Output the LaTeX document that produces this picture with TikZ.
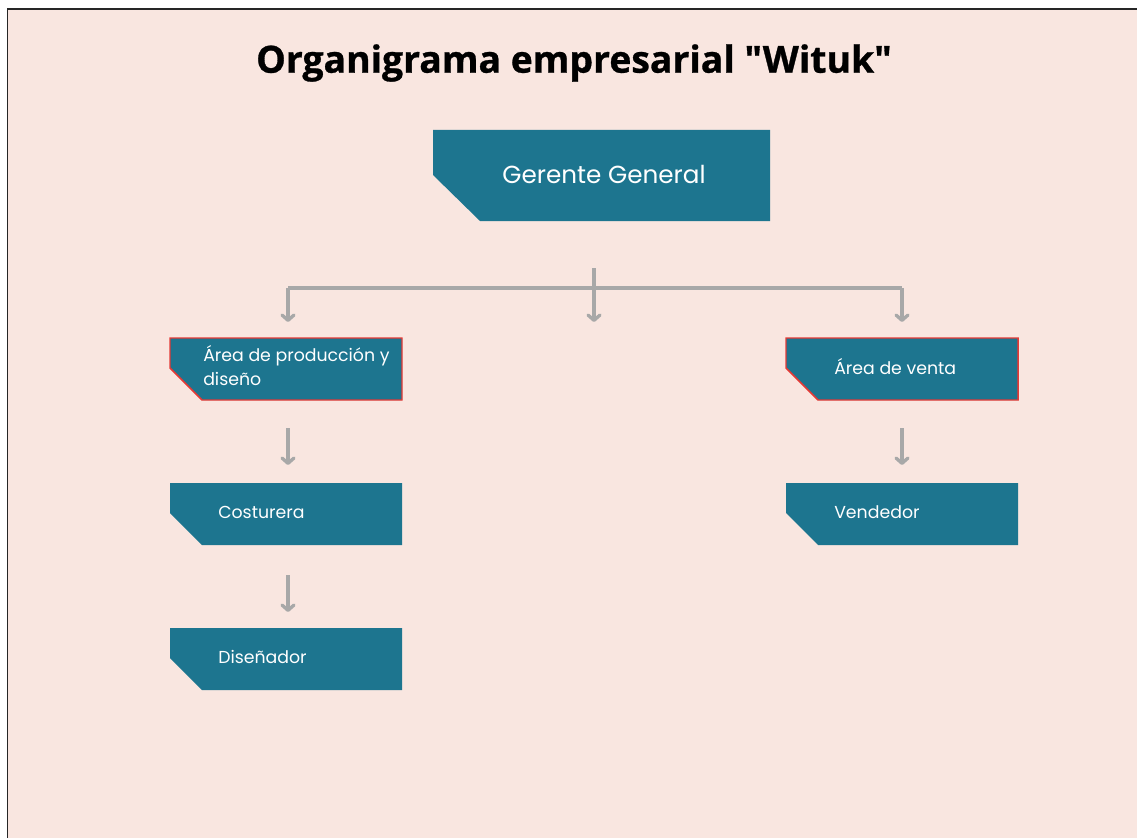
\documentclass[tikz,border=0pt]{standalone}
\usepackage{fontspec}
\setmainfont{Poppins}
\newfontfamily\titlefont{Open Sans}[BoldFeatures={FakeBold=0.8}]
\usetikzlibrary{arrows.meta}
\definecolor{bgpink}{RGB}{249,230,224}
\definecolor{tealbox}{RGB}{29,117,143}
\definecolor{redline}{RGB}{229,57,53}
\definecolor{graylink}{RGB}{168,168,168}
\tikzset{
  boxtext/.style={text=white, inner sep=0pt, align=left, font=\fontsize{13}{18}\selectfont},
  bigtext/.style={text=white, inner sep=0pt, font=\fontsize{18.5}{22}\selectfont},
  link/.style={draw=graylink, line width=2.5pt},
  arr/.style={link, -{Straight Barb[length=4pt,width=9pt,round]}},
}
% #1 name, #2 x1, #3 y1, #4 x2, #5 y2, #6 chamfer dx, #7 chamfer dy, #8 extra style
\newcommand{\chbox}[8]{%
  \path[fill=tealbox,#8] (#2,#3) -- (#4,#3) -- (#4,#5) -- (#2+#6,#5) -- (#2,#5-#7) -- cycle;
  \coordinate (#1) at ({(#2+#4)/2},{(#3+#5)/2});
}
\begin{document}
\begin{tikzpicture}[x=0.75pt,y=-0.75pt]
\useasboundingbox (0,0) rectangle (1137,838);
\fill[white] (0,0) rectangle (1137,838);
\fill[bgpink] (8,9) rectangle (1137,838);
\draw[black!85, line width=1.2pt] (7.5,838) -- (7.5,9) -- (1137,9);

\node[font=\titlefont\bfseries\fontsize{28}{32}\selectfont] (title) at (574,63) {Organigrama empresarial "Wituk"};

\chbox{gg}{433}{130}{770}{221}{47}{46}{}
\node[bigtext] (ggt) at (604,174) {Gerente General};

\chbox{apd}{170}{338}{402}{400}{32}{32}{draw=redline, line width=1.1pt}
\node[boxtext, anchor=west] (apdt) at (203,366) {Área de producción y\\diseño};

\chbox{av}{786}{338}{1018}{400}{32}{32}{draw=redline, line width=1.1pt}
\node[boxtext, anchor=west] (avt) at (834,367) {Área de venta};

\chbox{cos}{170}{483}{402}{545}{32}{32}{}
\node[boxtext, anchor=west] (cost) at (218,512) {Costurera};

\chbox{dis}{170}{628}{402}{690}{32}{32}{}
\node[boxtext, anchor=west] (dist) at (218,657) {Diseñador};

\chbox{ven}{786}{483}{1018}{545}{32}{32}{}
\node[boxtext, anchor=west] (vent) at (834,512) {Vendedor};

% connectors
\coordinate (ctop) at (594,268);
\coordinate (chub) at (594,288);
\coordinate (cL) at (288,288);
\coordinate (cR) at (902,288);
\coordinate (cMend) at (594,322);
\coordinate (cLend) at (288,322);
\coordinate (cRend) at (902,322);
\draw[link] (cL) -- (cR);
\draw[arr] (ctop) -- (cMend);
\draw[arr] (cL) -- (cLend);
\draw[arr] (cR) -- (cRend);

\coordinate (a1s) at (288,428); \coordinate (a1e) at (288,465);
\coordinate (a2s) at (288,575); \coordinate (a2e) at (288,612);
\coordinate (a3s) at (902,428); \coordinate (a3e) at (902,465);
\draw[arr] (a1s) -- (a1e);
\draw[arr] (a2s) -- (a2e);
\draw[arr] (a3s) -- (a3e);
\end{tikzpicture}
\end{document}
